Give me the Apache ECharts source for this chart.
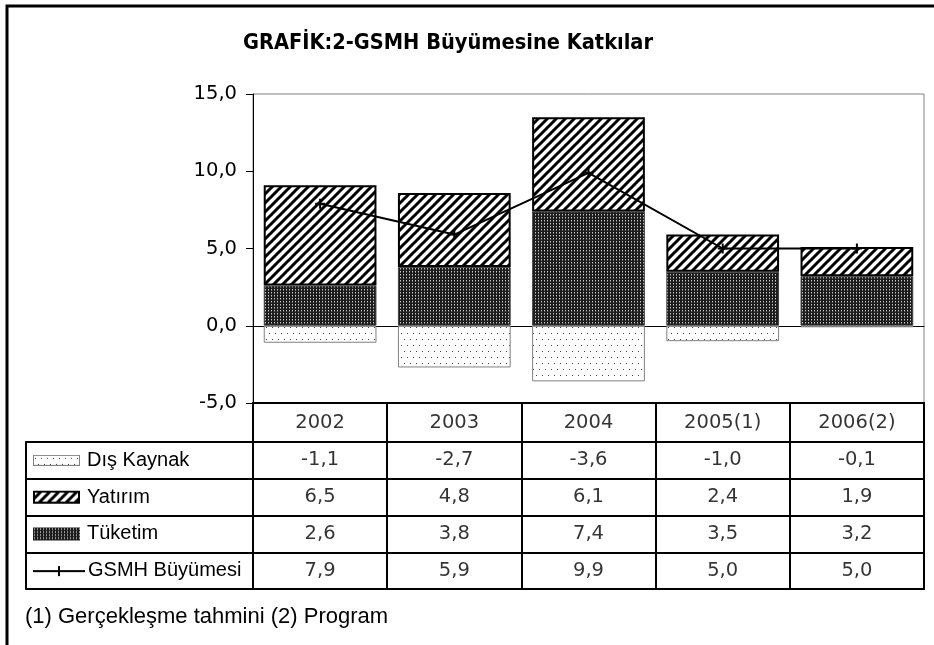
<!DOCTYPE html>
<html lang="tr">
<head>
<meta charset="UTF-8">
<title>GSMH Büyümesine Katkılar</title>
<script src="https://cdn.jsdelivr.net/npm/echarts@6/dist/echarts.min.js"></script>
<style>
  html, body { margin: 0; padding: 0; background: #fff; }
  #box { width: 934px; height: 645px; }
</style>
</head>
<body>
<div id="box"></div>
<script>
// veriler
var years = ['2002', '2003', '2004', '2005(1)', '2006(2)'];
var disKaynak = [-1.1, -2.7, -3.6, -1.0, -0.1];
var yatirim = [6.5, 4.8, 6.1, 2.4, 1.9];
var tuketim = [2.6, 3.8, 7.4, 3.5, 3.2];
var gsmh = [7.9, 5.9, 9.9, 5.0, 5.0];
var rowNames = ['Dış Kaynak', 'Yatırım', 'Tüketim', 'GSMH Büyümesi'];
var yTicks = [-5, 0, 5, 10, 15];

function fmt(v) { return v.toFixed(1).replace('.', ','); }

// desen karolari
function tile(w, h, draw) {
    var c = document.createElement('canvas');
    c.width = w; c.height = h;
    draw(c.getContext('2d'), w, h);
    return c;
}
function drawHatch(ctx, w, h) {
    ctx.fillStyle = '#fff'; ctx.fillRect(0, 0, w, h);
    ctx.strokeStyle = '#000'; ctx.lineWidth = 3;
    ctx.beginPath();
    ctx.moveTo(0, h); ctx.lineTo(w, 0);
    ctx.moveTo(-2, 2); ctx.lineTo(2, -2);
    ctx.moveTo(w - 2, h + 2); ctx.lineTo(w + 2, h - 2);
    ctx.stroke();
}
function drawDense(ctx, w, h) {
    ctx.fillStyle = '#1c1c1c'; ctx.fillRect(0, 0, w, h);
    ctx.fillStyle = '#c8c8c8'; ctx.fillRect(1, 1, 1, 1);
    ctx.fillStyle = '#6a6a6a'; ctx.fillRect(1, 2, 1, 1);
}
function drawDots(ctx, w, h) {
    ctx.fillStyle = '#fff'; ctx.fillRect(0, 0, w, h);
    ctx.fillStyle = '#444';
    ctx.fillRect(2, 3, 1, 1);
    ctx.fillRect(5, 9, 1, 1);
}
var hatchTile = tile(9, 9, drawHatch);
var denseTile = tile(3, 3, drawDense);
var dotTile = tile(6, 12, drawDots);

// lejant kutucuklari
function swatch(w, h, pat, border, bw) {
    return tile(w, h, function (ctx) {
        ctx.fillStyle = ctx.createPattern(pat, 'repeat');
        ctx.fillRect(0, 0, w, h);
        if (border) {
            ctx.strokeStyle = border; ctx.lineWidth = bw;
            ctx.strokeRect(bw / 2, bw / 2, w - bw, h - bw);
        }
    });
}
var sw0 = swatch(47, 11, dotTile, '#808080', 1);
var sw1 = swatch(47, 13, hatchTile, '#000', 2);
var sw2 = swatch(47, 13, denseTile, null, 0);
var sw3 = tile(52, 13, function (ctx, w, h) {
    ctx.fillStyle = '#000';
    ctx.fillRect(0, 6, w, 2);
    ctx.fillRect(25, 2, 2, 10);
});
var swatches = [sw0, sw1, sw2, sw3];

var plusPath = 'path://M4,0 H6 V4 H10 V6 H6 V10 H4 V6 H0 V4 H4 Z';

var headerData = [];
for (var i = 0; i < years.length; i++) headerData.push([i, 0]);
var rows = [disKaynak, yatirim, tuketim, gsmh];
var cellData = [];
for (var r = 0; r < rows.length; r++)
    for (var j = 0; j < years.length; j++)
        cellData.push([j, r, rows[r][j]]);

var rich = {};
for (var k = 0; k < swatches.length; k++) {
    rich['s' + k] = {
        width: swatches[k].width, height: swatches[k].height,
        backgroundColor: { image: swatches[k] }
    };
    rich['t' + k] = { fontFamily: 'Liberation Sans', fontSize: 20, color: '#000',
                      padding: [0, 0, 0, k == 3 ? 3 : 7] };
}

var tableFont = { fontFamily: 'DejaVu Sans', fontSize: 19.5, color: '#000' };

var myChart = echarts.init(document.getElementById('box'));
var option = {
    animation: false,
    title: [{
        text: 'GRAFİK:2-GSMH Büyümesine Katkılar',
        left: 243, top: 32, padding: 0,
        textStyle: { fontFamily: 'DejaVu Sans Condensed', fontWeight: 'bold', fontSize: 21.6, color: '#000' }
    }, {
        text: '(1) Gerçekleşme tahmini (2) Program',
        left: 25, top: 606, padding: 0,
        textStyle: { fontFamily: 'Liberation Sans', fontWeight: 'normal', fontSize: 22, color: '#000' }
    }],
    grid: [
        { left: 253, right: 10, top: 94, height: 309, show: true, borderColor: '#808080', borderWidth: 1 },
        { left: 253, right: 10, top: 403, height: 39, show: true, borderColor: '#000', borderWidth: 2 },
        { left: 253, right: 10, top: 442, height: 147, show: true, borderColor: '#000', borderWidth: 2 }
    ],
    xAxis: [
        { gridIndex: 0, type: 'category', data: years,
          axisLine: { lineStyle: { color: '#000', width: 1 } },
          axisTick: { show: false }, axisLabel: { show: false } },
        { gridIndex: 1, type: 'category', data: years,
          axisLine: { show: false }, axisTick: { show: false }, axisLabel: { show: false },
          splitLine: { show: true, interval: 0, lineStyle: { color: '#000', width: 2 } } },
        { gridIndex: 2, type: 'category', data: years,
          axisLine: { show: false }, axisTick: { show: false }, axisLabel: { show: false },
          splitLine: { show: true, interval: 0, lineStyle: { color: '#000', width: 2 } } }
    ],
    yAxis: [
        { gridIndex: 0, type: 'value', min: yTicks[0], max: yTicks[yTicks.length - 1], interval: 5,
          axisLine: { show: true, lineStyle: { color: '#000', width: 1 } },
          axisTick: { show: true, length: 7, lineStyle: { color: '#000' } },
          axisLabel: { margin: 16, fontFamily: 'DejaVu Sans', fontSize: 19.5, color: '#000', formatter: fmt },
          splitLine: { show: false } },
        { gridIndex: 1, type: 'category', data: [''],
          axisLine: { show: false }, axisTick: { show: false }, axisLabel: { show: false } },
        { gridIndex: 2, type: 'category', data: rowNames, inverse: true,
          axisLine: { show: false },
          axisTick: { show: true, interval: 0, length: 227, lineStyle: { color: '#000', width: 2 } },
          axisLabel: {
              interval: 0, margin: 220, align: 'left', rich: rich,
              formatter: function (v, idx) { return '{s' + idx + '|}{t' + idx + '|' + v + '}'; }
          },
          splitLine: { show: true, interval: 0, lineStyle: { color: '#000', width: 2 } } },
        { gridIndex: 2, type: 'category', data: rowNames, inverse: true, position: 'left', offset: 227,
          axisLine: { show: true, lineStyle: { color: '#000', width: 2 } },
          axisTick: { show: false }, axisLabel: { show: false } }
    ],
    series: [
        { name: 'Tüketim', type: 'bar', stack: 'top', data: tuketim, barCategoryGap: '16%',
          itemStyle: { color: { image: denseTile, repeat: 'repeat' }, borderColor: '#444', borderWidth: 1 } },
        { name: 'Yatırım', type: 'bar', stack: 'top', data: yatirim,
          itemStyle: { color: { image: hatchTile, repeat: 'repeat' }, borderColor: '#000', borderWidth: 2 } },
        { name: 'Dış Kaynak', type: 'bar', stack: 'top', data: disKaynak,
          itemStyle: { color: { image: dotTile, repeat: 'repeat' }, borderColor: '#808080', borderWidth: 1 } },
        { name: 'GSMH Büyümesi', type: 'line', data: gsmh, z: 5,
          symbol: plusPath, symbolSize: 10,
          itemStyle: { color: '#000' },
          lineStyle: { color: '#000', width: 2 } },
        { type: 'scatter', xAxisIndex: 1, yAxisIndex: 1, data: headerData, symbolSize: 0,
          label: Object.assign({ show: true, position: 'inside',
                   formatter: function (p) { return years[p.data[0]]; } }, tableFont) },
        { type: 'scatter', xAxisIndex: 2, yAxisIndex: 2, data: cellData, symbolSize: 0,
          label: Object.assign({ show: true, position: 'inside',
                   formatter: function (p) { return fmt(p.data[2]); } }, tableFont) }
    ],
    graphic: [{
        type: 'polyline', silent: true,
        shape: { points: [[7, 645], [7, 6], [934, 6]] },
        style: { stroke: '#000', lineWidth: 3, fill: null }
    }]
};
myChart.setOption(option);
</script>
</body>
</html>
